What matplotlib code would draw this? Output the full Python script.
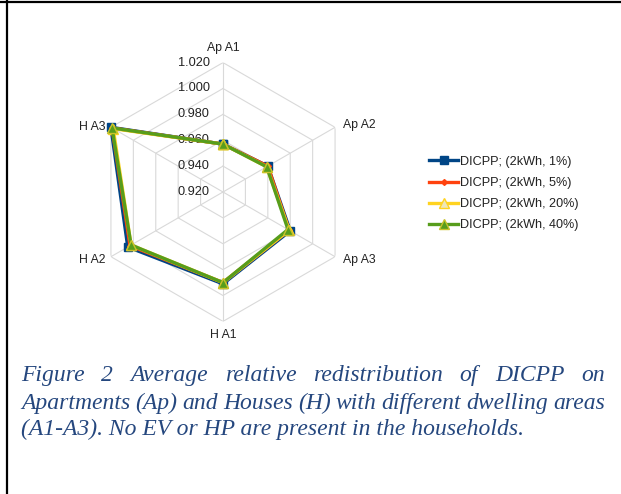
import numpy as np
import matplotlib
matplotlib.use("Agg")
import matplotlib.pyplot as plt
from matplotlib.lines import Line2D

# ---------------------------------------------------------------------------
# Data
# ---------------------------------------------------------------------------
categories = ["Ap A1", "Ap A2", "Ap A3", "H A1", "H A2", "H A3"]
series_labels = [
    "DICPP; (2kWh, 1%)",
    "DICPP; (2kWh, 5%)",
    "DICPP; (2kWh, 20%)",
    "DICPP; (2kWh, 40%)",
]
vals_1pct = [0.957, 0.960, 0.980, 0.991, 1.005, 1.020]
vals_5pct = [0.957, 0.960, 0.979, 0.990, 1.003, 1.019]
vals_20pct = [0.957, 0.959, 0.979, 0.990, 1.002, 1.018]
vals_40pct = [0.957, 0.959, 0.978, 0.990, 1.002, 1.019]
r_ticks = [0.920, 0.940, 0.960, 0.980, 1.000, 1.020]

caption_lines = [
    "Figure 2 Average relative redistribution of DICPP on",
    "Apartments (Ap) and Houses (H) with different dwelling areas",
    "(A1-A3). No EV or HP are present in the households.",
]

# ---------------------------------------------------------------------------
# Figure
# ---------------------------------------------------------------------------
W, H = 621, 494
fig = plt.figure(figsize=(W / 100, H / 100), dpi=100)
fig.patch.set_facecolor("white")

cx, cy, rad = 223, 192, 129.4
ax = fig.add_axes([(cx - rad) / W, (H - cy - rad) / H, 2 * rad / W, 2 * rad / H],
                  projection="polar")
ax.set_theta_offset(np.pi / 2)
ax.set_theta_direction(-1)
ax.set_ylim(r_ticks[0], r_ticks[-1])
ax.grid(False)
ax.set_xticks([])
ax.set_yticks([])
ax.spines["polar"].set_visible(False)
ax.patch.set_alpha(0)

angles = np.linspace(0, 2 * np.pi, len(categories), endpoint=False)
closed = np.append(angles, angles[0])

# hexagonal grid rings + spokes
grid_col = "#d9d9d9"
for v in r_ticks[1:]:
    ax.plot(closed, [v] * len(closed), color=grid_col, lw=0.8, zorder=1)
for a in angles:
    ax.plot([a, a], [r_ticks[0], r_ticks[-1]], color=grid_col, lw=0.8, zorder=1)

txt_col = "#222222"
sans = "Liberation Sans"
for v in r_ticks:
    ax.annotate(f"{v:.3f}", xy=(0, v), xytext=(-9.5, 0), textcoords="offset points",
                ha="right", va="center", fontsize=9.2, color=txt_col, family=sans,
                annotation_clip=False)

label_offsets = [(0, 10.5, "center"), (5.8, 1.5, "left"), (5.8, -2.4, "left"),
                 (0, -10, "center"), (-4, -2.4, "right"), (-4, 0, "right")]
for a, name, (dx, dy, ha) in zip(angles, categories, label_offsets):
    ax.annotate(name, xy=(a, r_ticks[-1]), xytext=(dx, dy), textcoords="offset points",
                ha=ha, va="center", fontsize=8.8, color=txt_col, family=sans,
                annotation_clip=False)

styles = [
    dict(color="#004586", marker="s", ms=6, mfc="#004586", mec="#004586"),
    dict(color="#FF420E", marker="D", ms=3, mfc="#FF420E", mec="#FF420E"),
    dict(color="#FFD320", marker="^", ms=7, mfc="#eee6b8", mec="#FFD320"),
    dict(color="#579D1C", marker="^", ms=7, mfc="#579D1C", mec="#c9c22a"),
]
handles = []
for vals, lab, st in zip([vals_1pct, vals_5pct, vals_20pct, vals_40pct],
                         series_labels, styles):
    ln, = ax.plot(closed, np.append(vals, vals[0]), lw=2.4, label=lab,
                  clip_on=False, zorder=3, **st)
    handles.append(ln)

fig.legend(handles=handles, loc="center left", bbox_to_anchor=(429 / W, 1 - 193.5 / H),
           frameon=False, prop={"family": sans, "size": 9.1}, handlelength=2.3,
           handletextpad=0.15, labelspacing=0.72, borderaxespad=0, borderpad=0,
           labelcolor=txt_col)

# ---------------------------------------------------------------------------
# Caption (justified lines drawn word by word)
# ---------------------------------------------------------------------------
cap_kw = dict(family="Liberation Serif", style="italic", fontsize=17,
              color="#25477e", va="baseline", ha="left")
x0, x1 = 21, 605
baselines = [381, 409, 435]
renderer = fig.canvas.get_renderer()
for i, (line, yb) in enumerate(zip(caption_lines, baselines)):
    y = 1 - yb / H
    if i == len(caption_lines) - 1:
        fig.text(x0 / W, y, line, **cap_kw)
        continue
    words = line.split()
    texts = [fig.text(0, y, w, **cap_kw) for w in words]
    widths = [t.get_window_extent(renderer).width for t in texts]
    gap = max(((x1 - x0) - sum(widths)) / (len(words) - 1), 3)
    x = x0
    for t, w in zip(texts, widths):
        t.set_x(x / W)
        x += w + gap

# frame lines (top and left edges)
fig.add_artist(Line2D([0, 1], [1 - 1.8 / H] * 2, color="black", lw=1.6,
                      transform=fig.transFigure))
fig.add_artist(Line2D([7 / W] * 2, [0, 1 - 1 / H], color="black", lw=1.6,
                      transform=fig.transFigure))

fig.savefig("out.png", dpi=100)
plt.close(fig)
